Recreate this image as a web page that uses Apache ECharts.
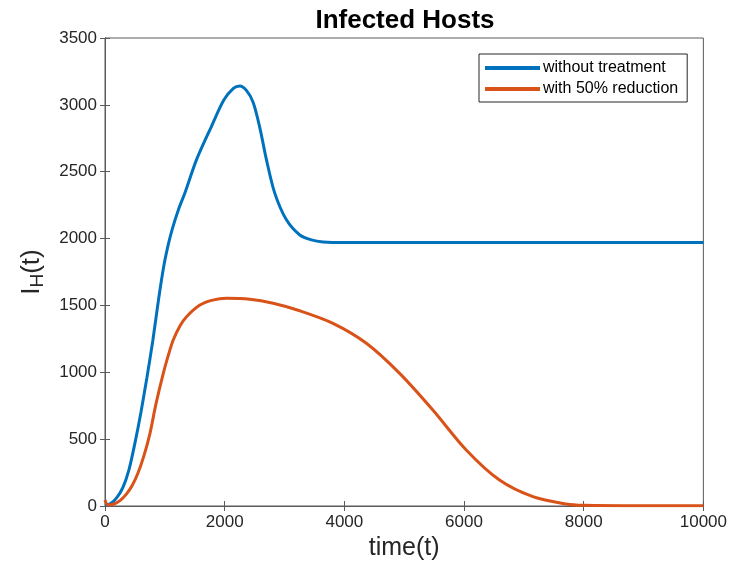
<!DOCTYPE html>
<html>
<head>
<meta charset="utf-8">
<script src="https://cdn.jsdelivr.net/npm/echarts@6/dist/echarts.min.js"></script>
<style>
  html, body { margin: 0; padding: 0; background: #fff; }
  #chart { width: 730px; height: 578px; }
</style>
</head>
<body>
<div id="chart"></div>
<script>
// Infected host counts over time, with and without treatment
const tWithout = [0, 100, 200, 300, 400, 500, 600, 700, 800, 900, 985, 1060, 1130, 1230, 1335, 1530, 1780, 1986, 2150, 2253, 2360, 2475, 2587, 2698, 2837, 3032, 3255, 3450, 3643, 4000, 5000, 6000, 7000, 8000, 9000, 10000];
const iWithout = [5, 20, 65, 140, 270, 470, 700, 960, 1240, 1560, 1800, 1960, 2080, 2220, 2340, 2590, 2840, 3036, 3125, 3141, 3110, 3020, 2830, 2590, 2340, 2140, 2027, 1990, 1975, 1970, 1970, 1970, 1970, 1970, 1970, 1970];

const tWith = [0, 50, 150, 250, 350, 450, 550, 650, 750, 850, 974, 1060, 1140, 1250, 1363, 1586, 1800, 2031, 2420, 2809, 3255, 3810, 4368, 4924, 5479, 6037, 6593, 7150, 7706, 8000, 9000, 10000];
const iWith = [45, 8, 15, 40, 85, 150, 245, 375, 540, 760, 992, 1130, 1241, 1345, 1416, 1503, 1540, 1553, 1546, 1516, 1460, 1366, 1217, 992, 718, 419, 194, 70, 15, 5, 2, 2];

const seriesNames = ['without treatment', 'with 50% reduction'];
const xTicks = { min: 0, max: 10000, interval: 2000 };
const yTicks = { min: 0, max: 3500, interval: 500 };

const pairs = (t, v) => t.map((x, i) => [x, v[i]]);
const plain = v => String(v);

const FONT = 'Liberation Sans, Arial, Helvetica, sans-serif';
const AXIS_COLOR = '#5a5a5a';
const TEXT_COLOR = '#262626';

const chart = echarts.init(document.getElementById('chart'), null, { renderer: 'canvas' });

const inwardTicks = { show: true, inside: true, length: 5, lineStyle: { color: AXIS_COLOR, width: 1 } };

chart.setOption({
  backgroundColor: '#fff',
  animation: false,
  textStyle: { fontFamily: FONT },
  title: {
    text: 'Infected Hosts',
    left: 400,
    top: 3,
    textAlign: 'center',
    textStyle: { fontFamily: FONT, fontSize: 26, fontWeight: 'bold', color: '#000' }
  },
  legend: {
    orient: 'vertical',
    left: 479,
    top: 54,
    padding: [6, 9, 5, 6],
    itemGap: 5,
    itemWidth: 55,
    itemHeight: 4,
    icon: 'rect',
    borderColor: '#262626',
    borderWidth: 1,
    backgroundColor: '#fff',
    textStyle: { fontFamily: FONT, fontSize: 16, color: '#000', padding: [0, 0, 0, -2] },
    data: seriesNames
  },
  grid: {
    left: 105, right: 26, top: 38, bottom: 72,
    show: true, borderColor: AXIS_COLOR, borderWidth: 1, backgroundColor: '#fff'
  },
  xAxis: [{
    type: 'value',
    min: xTicks.min, max: xTicks.max, interval: xTicks.interval,
    name: 'time(t)',
    nameLocation: 'middle',
    nameGap: 20,
    nameTextStyle: { fontFamily: FONT, fontSize: 25, color: TEXT_COLOR, verticalAlign: 'top' },
    axisLine: { show: true, lineStyle: { color: AXIS_COLOR } },
    axisTick: inwardTicks,
    axisLabel: { fontFamily: FONT, fontSize: 17, color: TEXT_COLOR, margin: 8, formatter: plain },
    splitLine: { show: false }
  }, {
    type: 'value', position: 'top',
    min: xTicks.min, max: xTicks.max, interval: xTicks.interval,
    axisLine: { show: true, lineStyle: { color: AXIS_COLOR } },
    axisTick: inwardTicks,
    axisLabel: { show: false },
    splitLine: { show: false }
  }],
  yAxis: [{
    type: 'value',
    min: yTicks.min, max: yTicks.max, interval: yTicks.interval,
    name: '{a|I}{b|H}{a|(t)}',
    nameLocation: 'middle',
    nameGap: 58,
    nameRotate: 90,
    nameTextStyle: {
      color: TEXT_COLOR,
      rich: {
        a: { fontFamily: FONT, fontSize: 26, color: TEXT_COLOR, lineHeight: 30 },
        b: { fontFamily: FONT, fontSize: 19, color: TEXT_COLOR, lineHeight: 30, verticalAlign: 'bottom', padding: [14, 0, 0, 0] }
      }
    },
    axisLine: { show: true, lineStyle: { color: AXIS_COLOR } },
    axisTick: inwardTicks,
    axisLabel: { fontFamily: FONT, fontSize: 17, color: TEXT_COLOR, margin: 8, formatter: plain },
    splitLine: { show: false }
  }, {
    type: 'value', position: 'right',
    min: yTicks.min, max: yTicks.max, interval: yTicks.interval,
    axisLine: { show: true, lineStyle: { color: AXIS_COLOR } },
    axisTick: inwardTicks,
    axisLabel: { show: false },
    splitLine: { show: false }
  }],
  series: [{
    name: seriesNames[0],
    type: 'line',
    data: pairs(tWithout, iWithout),
    smooth: 0.3,
    showSymbol: false,
    color: '#0072BD',
    lineStyle: { width: 3, color: '#0072BD' }
  }, {
    name: seriesNames[1],
    type: 'line',
    data: pairs(tWith, iWith),
    smooth: 0.3,
    showSymbol: false,
    color: '#D95319',
    lineStyle: { width: 3, color: '#D95319' }
  }]
});
</script>
</body>
</html>
